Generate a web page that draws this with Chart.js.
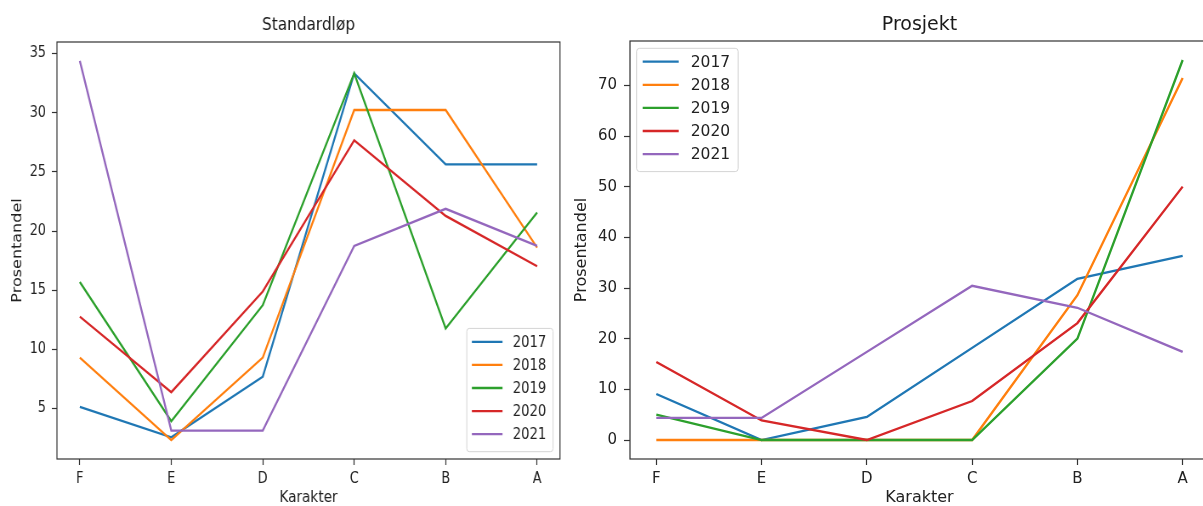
<!DOCTYPE html>
<html>
<head>
<meta charset="utf-8">
<script src="https://cdn.jsdelivr.net/npm/chart.js@4.4.1/dist/chart.umd.min.js"></script>
<style>
  html, body { margin: 0; padding: 0; background: #fff; overflow: hidden; }
  body { width: 1203px; height: 506px; position: relative; }
  #standard { position: absolute; left: 0; top: 0; transform: scaleX(0.85); transform-origin: 0 0; }
  #prosjekt { position: absolute; left: 565px; top: 0; }
</style>
</head>
<body>
<canvas id="standard" width="665" height="506"></canvas>
<canvas id="prosjekt" width="700" height="506"></canvas>
<script>
// karakterer langs x-aksen og årskull
const grades = ["F", "E", "D", "C", "B", "A"];
const years = ["2017", "2018", "2019", "2020", "2021"];
const colors = ["#1f77b4", "#ff7f0e", "#2ca02c", "#d62728", "#9467bd"];

// Standardløp, prosentandel per karakter
const std2017 = [5.13, 2.56, 7.69, 33.33, 25.64, 25.64];
const std2018 = [9.30, 2.33, 9.30, 30.23, 30.23, 18.60];
const std2019 = [15.69, 3.92, 13.73, 33.33, 11.76, 21.57];
const std2020 = [12.77, 6.38, 14.89, 27.66, 21.28, 17.02];
const std2021 = [34.38, 3.13, 3.13, 18.75, 21.88, 18.75];

// Prosjekt, prosentandel per karakter
const prj2017 = [9.09, 0, 4.55, 18.18, 31.82, 36.36];
const prj2018 = [0, 0, 0, 0, 28.57, 71.43];
const prj2019 = [5, 0, 0, 0, 20, 75];
const prj2020 = [15.38, 3.85, 0, 7.69, 23.08, 50];
const prj2021 = [4.35, 4.35, 17.39, 30.43, 26.09, 17.39];

const stdTicks = [5, 10, 15, 20, 25, 30, 35];
const prjTicks = [0, 10, 20, 30, 40, 50, 60, 70];

Chart.defaults.font.family = '"DejaVu Sans", "Liberation Sans", sans-serif';
Chart.defaults.color = "#222";

// ramme rundt plottet (som matplotlib sine spines)
const frame = {
    id: "frame",
    afterDatasetsDraw: function (chart) {
        const a = chart.chartArea;
        const ctx = chart.ctx;
        ctx.save();
        ctx.strokeStyle = "#333";
        ctx.lineWidth = 1.2;
        ctx.strokeRect(a.left, a.top, a.right - a.left, a.bottom - a.top);
        ctx.restore();
    }
};

// legende inne i plottet
const insideLegend = {
    id: "insideLegend",
    afterDraw: function (chart, args, o) {
        const ctx = chart.ctx;
        const a = chart.chartArea;
        const sets = chart.data.datasets;
        ctx.save();
        ctx.font = o.fontSize + 'px "DejaVu Sans", sans-serif';
        let textW = 0;
        sets.forEach(function (d) { textW = Math.max(textW, ctx.measureText(d.label).width); });
        const w = o.padL + o.handle + o.gap + textW + o.padR;
        const h = o.firstRow + (sets.length - 1) * o.rowH + o.lastPad;
        const x = o.corner.indexOf("right") >= 0 ? a.right - o.insetX - w : a.left + o.insetX;
        const y = o.corner.indexOf("lower") >= 0 ? a.bottom - o.insetY - h : a.top + o.insetY;
        ctx.beginPath();
        ctx.roundRect(x, y, w, h, 3);
        ctx.fillStyle = "rgba(255,255,255,0.8)";
        ctx.fill();
        ctx.strokeStyle = "#d4d4d4";
        ctx.lineWidth = 1;
        ctx.stroke();
        sets.forEach(function (d, i) {
            const cy = y + o.firstRow + i * o.rowH;
            ctx.strokeStyle = d.borderColor;
            ctx.lineWidth = 2.3;
            ctx.beginPath();
            ctx.moveTo(x + o.padL, cy);
            ctx.lineTo(x + o.padL + o.handle, cy);
            ctx.stroke();
            ctx.fillStyle = "#222";
            ctx.textBaseline = "middle";
            ctx.textAlign = "left";
            ctx.fillText(d.label, x + o.padL + o.handle + o.gap, cy + 1);
        });
        ctx.restore();
    }
};

function lines(seriesList) {
    return seriesList.map(function (vals, i) {
        return {
            label: years[i],
            data: vals.map(function (v, j) { return { x: j, y: v }; }),
            borderColor: colors[i],
            backgroundColor: colors[i],
            borderWidth: 2.3,
            pointRadius: 0,
            tension: 0,
            fill: false,
            order: seriesList.length - i
        };
    });
}

function options(cfg) {
    return {
        responsive: false,
        animation: false,
        events: [],
        layout: { padding: { left: 0, right: cfg.padRight, top: 0, bottom: 0 } },
        plugins: {
            legend: { display: false },
            tooltip: { enabled: false },
            title: {
                display: true,
                fullSize: false,
                text: cfg.title,
                color: "#1a1a1a",
                font: { size: cfg.titleSize, weight: "normal", lineHeight: 1.2 },
                padding: { top: cfg.titleTop, bottom: cfg.titleBottom }
            },
            insideLegend: cfg.legend
        },
        scales: {
            x: {
                type: "linear",
                min: -0.25,
                max: 5.25,
                afterFit: function (s) { s.height = 47; },
                ticks: {
                    stepSize: 1,
                    includeBounds: false,
                    autoSkip: false,
                    maxRotation: 0,
                    padding: 5,
                    font: { size: 15 },
                    color: "#222",
                    callback: function (v) { return grades[v]; }
                },
                grid: { drawOnChartArea: false, drawTicks: true, tickLength: 6, color: "#333", tickColor: "#333", tickWidth: 1.2 },
                border: { display: false },
                title: {
                    display: true,
                    text: "Karakter",
                    color: "#222",
                    font: { size: 16, lineHeight: 1 },
                    padding: { top: 0, bottom: 0 }
                }
            },
            y: {
                type: "linear",
                min: cfg.yMin,
                max: cfg.yMax,
                afterFit: function (s) { s.width = cfg.yWidth; },
                afterBuildTicks: function (s) {
                    s.ticks = cfg.yTicks.map(function (v) { return { value: v }; });
                },
                ticks: { padding: 7, font: { size: 15 }, color: "#222" },
                grid: { drawOnChartArea: false, drawTicks: true, tickLength: 6, color: "#333", tickColor: "#333", tickWidth: 1.2 },
                border: { display: false },
                title: {
                    display: true,
                    text: "Prosentandel",
                    color: "#222",
                    font: { size: 16, lineHeight: 1.2 },
                    padding: { top: cfg.yTitlePad, bottom: 0 }
                }
            }
        }
    };
}

const legendBase = { fontSize: 15.5, padL: 6, handle: 36, gap: 12, padR: 8, firstRow: 13.4, rowH: 23.1, lastPad: 17.5, insetY: 7.3 };

new Chart(document.getElementById("standard"), {
    type: "line",
    data: { datasets: lines([std2017, std2018, std2019, std2020, std2021]) },
    options: options({
        title: "Standardløp",
        titleSize: 18, titleTop: 14.2, titleBottom: 6.2,
        padRight: 6.2, yWidth: 67, yTitlePad: 11.6,
        yMin: 0.73, yMax: 35.98, yTicks: stdTicks,
        legend: Object.assign({}, legendBase, { corner: "lower right", insetX: 8.2 })
    }),
    plugins: [frame, insideLegend]
});

new Chart(document.getElementById("prosjekt"), {
    type: "line",
    data: { datasets: lines([prj2017, prj2018, prj2019, prj2020, prj2021]) },
    options: options({
        title: "Prosjekt",
        titleSize: 19, titleTop: 13.6, titleBottom: 4.6,
        padRight: 56, yWidth: 65, yTitlePad: 7.4,
        yMin: -3.75, yMax: 78.75, yTicks: prjTicks,
        legend: Object.assign({}, legendBase, { corner: "upper left", insetX: 6.7 })
    }),
    plugins: [frame, insideLegend]
});
</script>
</body>
</html>
